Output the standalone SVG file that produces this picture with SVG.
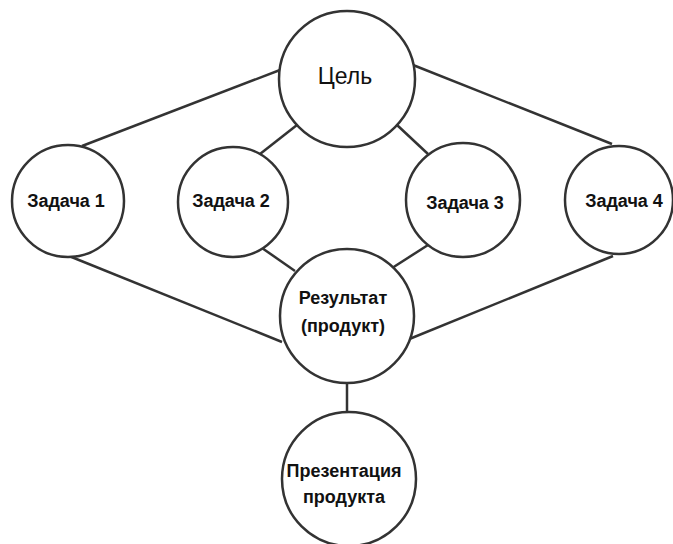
<svg xmlns="http://www.w3.org/2000/svg" width="673" height="544" viewBox="0 0 673 544">
<style>
.n{fill:#fff;stroke:#333;stroke-width:2.5}
.c line{stroke:#333;stroke-width:2.5}
.t{font-family:"Liberation Sans",Arial,sans-serif;font-weight:bold;font-size:18px;fill:#111;text-anchor:middle}
.g{font-family:"Liberation Sans",Arial,sans-serif;font-size:23px;fill:#111;text-anchor:middle}
</style>
<rect width="673" height="544" fill="#fff"/>
<g class="c" id="connectors">
<line x1="280" y1="70" x2="82" y2="146"/>
<line x1="297" y1="125" x2="260" y2="154"/>
<line x1="397" y1="125" x2="428" y2="154"/>
<line x1="413" y1="65" x2="612" y2="144"/>
<line x1="69" y1="256" x2="282" y2="342"/>
<line x1="262" y1="248" x2="295" y2="271"/>
<line x1="428" y1="245" x2="389" y2="270"/>
<line x1="613" y1="256" x2="402" y2="342"/>
<line x1="347" y1="380" x2="347" y2="414"/>
</g>
<g id="goal"><circle class="n" cx="347" cy="79" r="68"/><text class="g" x="345" y="84">Цель</text></g>
<g id="task1"><circle class="n" cx="68" cy="201" r="56"/><text class="t" x="66" y="207">Задача 1</text></g>
<g id="task2"><circle class="n" cx="233" cy="202" r="55"/><text class="t" x="231" y="207">Задача 2</text></g>
<g id="task3"><circle class="n" cx="463" cy="200" r="57"/><text class="t" x="465" y="209">Задача 3</text></g>
<g id="task4"><circle class="n" cx="619" cy="200" r="54"/><text class="t" x="624" y="207">Задача 4</text></g>
<g id="result"><circle class="n" cx="347" cy="316" r="67"/><text class="t" x="343" y="304">Результат</text><text class="t" x="343" y="332">(продукт)</text></g>
<g id="presentation"><circle class="n" cx="349" cy="479" r="67"/><text class="t" x="344" y="477">Презентация</text><text class="t" x="344" y="503">продукта</text></g>
</svg>
